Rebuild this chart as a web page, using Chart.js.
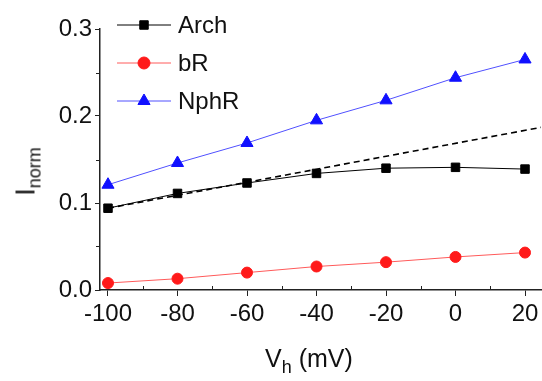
<!DOCTYPE html>
<html>
<head>
<meta charset="utf-8">
<script src="https://cdn.jsdelivr.net/npm/chart.js@4"></script>
<style>
  html, body { margin: 0; padding: 0; background: #fff; overflow: hidden; }
  #wrap { position: relative; width: 542px; height: 381px; overflow: hidden; font-family: "Liberation Sans", Arial, sans-serif; }
  canvas { position: absolute; left: 0; top: 0; }
  .title { position: absolute; color: #111; white-space: nowrap; }
  .title sub { font-size: 18px; vertical-align: -6px; }
  #xTitle { left: 265px; top: 344px; font-size: 25px; }
  #yTitle { left: -12px; top: 154px; font-size: 27px; transform: rotate(-90deg); transform-origin: 50% 50%; width: 80px; text-align: center; }
</style>
</head>
<body>
<div id="wrap">
  <canvas id="chart" width="549" height="381"></canvas>
  <div class="title" id="xTitle">V<sub>h</sub> (mV)</div>
  <div class="title" id="yTitle">I<sub>norm</sub></div>
</div>
<script>
// Haltepotential (mV)
const voltages = [-100, -80, -60, -40, -20, 0, 20];
// normierte Ströme
const archValues = [0.094, 0.111, 0.123, 0.134, 0.140, 0.141, 0.139];
const bRValues = [0.008, 0.013, 0.020, 0.027, 0.032, 0.038, 0.043];
const nphRValues = [0.121, 0.146, 0.169, 0.195, 0.218, 0.244, 0.265];
// lineare Extrapolation von Arch (gestrichelt)
const fitX = [-100, 26];
const fitY = [0.094, 0.188];

const xTicks = [-100, -80, -60, -40, -20, 0, 20];
const xMinorTicks = [-90, -70, -50, -30, -10, 10];
const yTicks = [0, 0.1, 0.2, 0.3];
const yMinorTicks = [0.05, 0.15, 0.25];

const seriesNames = ['Arch', 'bR', 'NphR'];

function toPoints(xs, ys) {
    return xs.map((x, i) => ({ x: x, y: ys[i] }));
}

const legendStyles = [
    { line: '#000000', fill: '#000000', style: 'rect', radius: 6 },
    { line: '#ff5a5a', fill: '#ff1a1a', style: 'circle', radius: 6 },
    { line: '#5050ff', fill: '#1010ff', style: 'triangle', radius: 7 }
];

// eigene Legende: Linie mit Symbol in der Mitte
const lineLegend = {
    id: 'lineLegend',
    afterDraw(chart) {
        const ctx = chart.ctx;
        ctx.save();
        seriesNames.forEach((name, i) => {
            const st = legendStyles[i];
            const y = 25 + i * 38;
            ctx.strokeStyle = st.line;
            ctx.lineWidth = 1;
            ctx.beginPath();
            ctx.moveTo(117, y);
            ctx.lineTo(171, y);
            ctx.stroke();
            ctx.fillStyle = st.fill;
            ctx.strokeStyle = st.fill;
            Chart.helpers.drawPoint(ctx, { pointStyle: st.style, radius: st.radius, borderWidth: 1, rotation: 0 }, 144, y);
            ctx.fillStyle = '#111';
            ctx.font = '24px "Liberation Sans", Arial, sans-serif';
            ctx.textBaseline = 'middle';
            ctx.fillText(name, 178, y + 1);
        });
        ctx.restore();
    }
};

// kleine Zwischenstriche an den Achsen
const minorTicks = {
    id: 'minorTicks',
    afterDraw(chart) {
        const ctx = chart.ctx;
        const xs = chart.scales.x, ys = chart.scales.y;
        const area = chart.chartArea;
        ctx.save();
        ctx.strokeStyle = '#222';
        ctx.lineWidth = 1;
        ctx.beginPath();
        xMinorTicks.forEach(v => {
            const px = Math.round(xs.getPixelForValue(v)) + 0.5;
            ctx.moveTo(px, area.bottom);
            ctx.lineTo(px, area.bottom - 4);
        });
        yMinorTicks.forEach(v => {
            const py = Math.round(ys.getPixelForValue(v)) + 0.5;
            ctx.moveTo(area.left, py);
            ctx.lineTo(area.left - 4, py);
        });
        ctx.stroke();
        ctx.restore();
    }
};

const ctx = document.getElementById('chart').getContext('2d');
const chart = new Chart(ctx, {
    type: 'scatter',
    data: {
        datasets: [{
            label: 'fit',
            data: toPoints(fitX, fitY),
            showLine: true,
            borderColor: '#000',
            borderWidth: 1.6,
            borderDash: [6, 4],
            pointRadius: 0
        }, {
            label: 'Arch',
            data: toPoints(voltages, archValues),
            showLine: true,
            borderColor: '#000',
            borderWidth: 1,
            pointStyle: 'rect',
            pointRadius: 6,
            pointBackgroundColor: '#000',
            pointBorderColor: '#000'
        }, {
            label: 'bR',
            data: toPoints(voltages, bRValues),
            showLine: true,
            borderColor: '#ff5a5a',
            borderWidth: 1,
            pointStyle: 'circle',
            pointRadius: 5.5,
            pointBackgroundColor: '#ff1a1a',
            pointBorderColor: '#ff1a1a'
        }, {
            label: 'NphR',
            data: toPoints(voltages, nphRValues),
            showLine: true,
            borderColor: '#5050ff',
            borderWidth: 1,
            pointStyle: 'triangle',
            pointRadius: 7,
            pointBackgroundColor: '#1010ff',
            pointBorderColor: '#1010ff'
        }]
    },
    options: {
        responsive: false,
        animation: false,
        layout: { padding: { top: 29, right: 1, left: 0, bottom: 0 } },
        plugins: {
            legend: { display: false },
            tooltip: { enabled: false }
        },
        scales: {
            x: {
                type: 'linear',
                min: -102.3,
                max: 24.6,
                afterBuildTicks: s => { s.ticks = xTicks.map(v => ({ value: v })); },
                afterFit: s => { s.height = 91; },
                border: { display: true, color: '#222', width: 1.5 },
                grid: { drawOnChartArea: false, drawTicks: true, tickLength: 6, color: '#222' },
                ticks: {
                    color: '#111',
                    padding: 4,
                    maxRotation: 0,
                    font: { family: '"Liberation Sans", Arial, sans-serif', size: 24 }
                }
            },
            y: {
                min: 0,
                max: 0.3,
                afterBuildTicks: s => { s.ticks = yTicks.map(v => ({ value: v })); },
                afterFit: s => { s.width = 100; },
                border: { display: true, color: '#222', width: 1.5 },
                grid: { drawOnChartArea: false, drawTicks: true, tickLength: 5, color: '#222' },
                ticks: {
                    color: '#111',
                    padding: 3,
                    callback: v => v.toFixed(1),
                    font: { family: '"Liberation Sans", Arial, sans-serif', size: 24 }
                }
            }
        }
    },
    plugins: [lineLegend, minorTicks]
});
</script>
</body>
</html>
